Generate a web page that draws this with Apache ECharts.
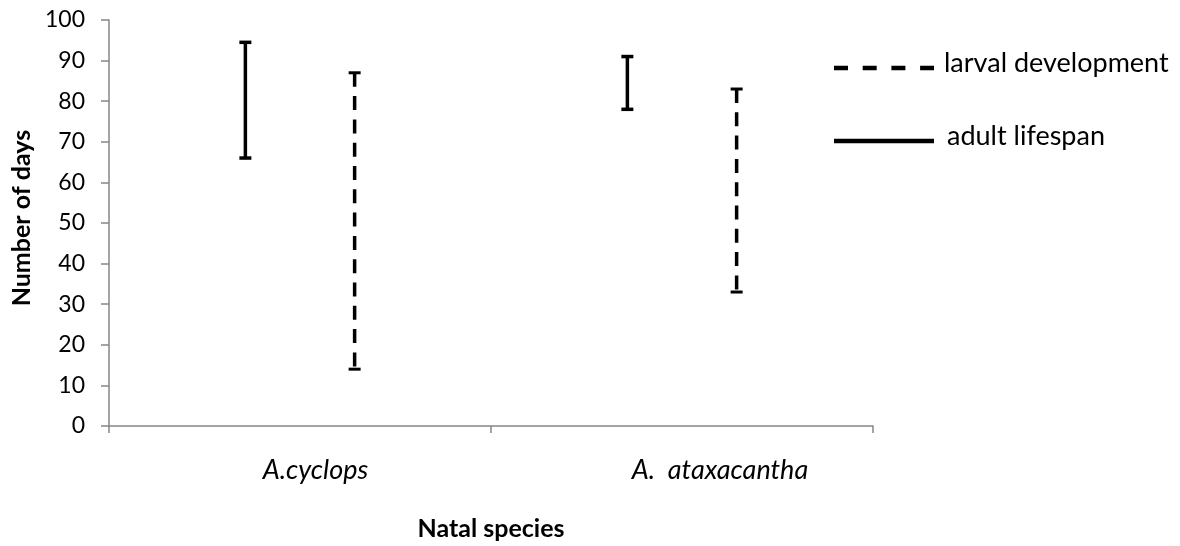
<!DOCTYPE html>
<html>
<head>
<meta charset="utf-8">
<script src="https://cdn.jsdelivr.net/npm/echarts@6/dist/echarts.min.js"></script>
<style>
html,body{margin:0;padding:0;background:#fff;}
#chart{width:1180px;height:546px;}
</style>
</head>
<body>
<div id="chart"></div>
<script>
// Data
var categories = ['A.cyclops', 'A.  ataxacantha'];
var adultLow = [66, 78];
var adultHigh = [94.5, 91];
var larvalLow = [14, 33];
var larvalHigh = [87, 83];
var yTicks = [0, 10, 20, 30, 40, 50, 60, 70, 80, 90, 100];
var seriesNames = ['larval development', 'adult lifespan'];

var FONT = 'Lato, "Open Sans", sans-serif';

function rangeItem(offsetFrac, lineW, capW, capLW, dash) {
  return function (params, api) {
    var c = api.value(0);
    var lo = api.coord([c, api.value(1)]);
    var hi = api.coord([c, api.value(2)]);
    var band = api.size([1, 0])[0];
    var x = lo[0] + offsetFrac * band;
    var capStyle = { stroke: '#000', lineWidth: capLW };
    var lineStyle = { stroke: '#000', lineWidth: lineW };
    if (dash) lineStyle.lineDash = dash;
    return {
      type: 'group',
      children: [
        { type: 'line', shape: { x1: x, y1: hi[1], x2: x, y2: lo[1] }, style: lineStyle },
        { type: 'line', shape: { x1: x - capW / 2, y1: lo[1], x2: x + capW / 2, y2: lo[1] }, style: capStyle },
        { type: 'line', shape: { x1: x - capW / 2, y1: hi[1], x2: x + capW / 2, y2: hi[1] }, style: capStyle }
      ]
    };
  };
}

var adultData = categories.map(function (c, i) { return [i, adultLow[i], adultHigh[i]]; });
var larvalData = categories.map(function (c, i) { return [i, larvalLow[i], larvalHigh[i]]; });

var labelRich = {
  p0: { fontFamily: FONT, fontSize: 27, fontStyle: 'italic', color: '#000', padding: [0, 0, 0, 31] },
  p1: { fontFamily: FONT, fontSize: 27, fontStyle: 'italic', color: '#000', padding: [0, 0, 0, 76] }
};

var chart = echarts.init(document.getElementById('chart'), null, { renderer: 'canvas' });
chart.setOption({
  animation: false,
  backgroundColor: '#fff',
  textStyle: { fontFamily: FONT },
  grid: { left: 109, right: 307, top: 20, bottom: 119, containLabel: false },
  xAxis: {
    type: 'category',
    data: categories,
    boundaryGap: true,
    name: 'Natal species',
    nameLocation: 'middle',
    nameGap: 90,
    nameTextStyle: { fontFamily: FONT, fontSize: 25, fontWeight: 'bold', color: '#000' },
    axisLine: { lineStyle: { color: '#868686', width: 1.5 } },
    axisTick: { show: true, length: 7, lineStyle: { color: '#868686', width: 1.5 } },
    axisLabel: {
      margin: 31, fontFamily: FONT, fontSize: 27, fontStyle: 'italic', color: '#000',
      formatter: function (v, i) { return '{p' + i + '|' + v + '}'; },
      rich: labelRich
    },
    splitLine: { show: false }
  },
  yAxis: {
    type: 'value',
    min: yTicks[0],
    max: yTicks[yTicks.length - 1],
    interval: 10,
    name: 'Number of days',
    nameLocation: 'middle',
    nameGap: 73,
    nameRotate: 90,
    nameTextStyle: { fontFamily: FONT, fontSize: 25, fontWeight: 'bold', color: '#000', padding: [0, 0, 0, 10] },
    axisLine: { show: true, lineStyle: { color: '#868686', width: 1.5 } },
    axisTick: { show: true, length: 8, lineStyle: { color: '#868686', width: 1.5 } },
    axisLabel: { margin: 24, fontFamily: FONT, fontSize: 23, color: '#000' },
    splitLine: { show: false }
  },
  series: [
    {
      name: seriesNames[1],
      type: 'custom',
      renderItem: rangeItem(-0.143, 3.5, 12, 3.5, null),
      encode: { x: 0, y: [1, 2] },
      data: adultData
    },
    {
      name: seriesNames[0],
      type: 'custom',
      renderItem: rangeItem(0.143, 3.5, 12, 3, [14, 9.3]),
      encode: { x: 0, y: [1, 2] },
      data: larvalData
    }
  ],
  graphic: [
    { type: 'line', shape: { x1: 834, y1: 68, x2: 934, y2: 68 }, style: { stroke: '#000', lineWidth: 4.5, lineDash: [14, 14.7] } },
    { type: 'text', x: 944, y: 63, style: { text: seriesNames[0], fontFamily: FONT, fontSize: 27, fill: '#000', verticalAlign: 'middle', align: 'left' } },
    { type: 'line', shape: { x1: 834, y1: 141, x2: 934, y2: 141 }, style: { stroke: '#000', lineWidth: 4.5 } },
    { type: 'text', x: 947, y: 136, style: { text: seriesNames[1], fontFamily: FONT, fontSize: 27, fill: '#000', verticalAlign: 'middle', align: 'left' } }
  ]
});
</script>
</body>
</html>
